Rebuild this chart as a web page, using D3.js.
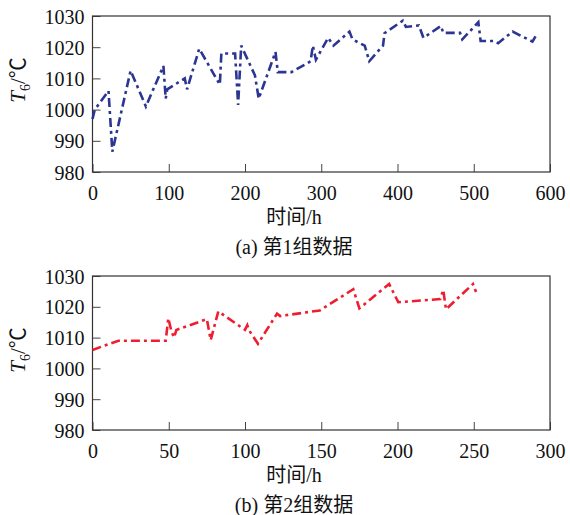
<!DOCTYPE html>
<html>
<head>
<meta charset="utf-8">
<script src="https://cdn.jsdelivr.net/npm/d3@7"></script>
<style>
  body { margin: 0; background: #fff; }
  text { font-family: "Liberation Serif", "Noto Sans CJK SC", serif; fill: #111; }
</style>
</head>
<body>
<div class="chart"></div>
<script>
// data: [hours, temperature]
var group1 = [[0,997],[3,1000],[21,1006],[26,986.5],[50,1012.5],[70,1001],[93,1014],[96,1003.5],[98,1006.5],
  [121,1010],[124,1006.5],[140,1019.5],[167,1008],[169,1018],[187,1018],[191,1001.5],[195,1020.5],
  [213,1011],[218,1003.5],[240,1018.5],[243,1012],[261,1012],[286,1015.5],[289,1020.5],[293,1016],
  [309,1023],[316,1020.5],[337,1025],[341,1022.5],[357,1020.5],[363,1015.5],[381,1020.5],[383,1024.5],
  [407,1028.5],[411,1026.5],[428,1027],[434,1023],[457,1026.8],[460,1024.6],[482,1024.6],[485,1022.5],
  [506,1028],[509,1022],[527,1022],[532,1021.3],[551,1025],[577,1021.8],[581,1023.5]];

var group2 = [[0,1006],[17,1009],[48,1009],[49.7,1016.3],[51.8,1012],[53.5,1010],[55,1012.5],[75,1016],
  [77.5,1009.2],[82.5,1018.5],[100,1012.5],[101.5,1014],[102.5,1012.5],[108.5,1008],[121,1017.8],
  [123,1017],[149,1018.8],[171,1025.7],[175,1019.5],[194.5,1027.4],[200.5,1021.5],[228,1022.5],
  [230,1025.5],[231.8,1019.2],[249.5,1027.4],[251.5,1024.8]];

var yTicks = [980, 990, 1000, 1010, 1020, 1030];
var xTicks1 = [0, 100, 200, 300, 400, 500, 600];
var xTicks2 = [0, 50, 100, 150, 200, 250, 300];
var captions = ["(a) 第1组数据", "(b) 第2组数据"];
var xTitle = "时间/h";

var svgWidth = 570;
var svgHeight = 515;

var svg = d3.select(".chart")
  .append("svg")
  .attr("width", svgWidth)
  .attr("height", svgHeight);

var panels = [
  { data: group1, xTicks: xTicks1, xMax: 600, top: 16, bottom: 172, color: "#2b3592", caption: captions[0], labelY: 80 },
  { data: group2, xTicks: xTicks2, xMax: 300, top: 276, bottom: 430, color: "#ee1d30", caption: captions[1], labelY: 350 }
];

var left = 92.5, right = 550;

panels.forEach(function (p) {
  var x = d3.scaleLinear().domain([0, p.xMax]).range([left, right]);
  var y = d3.scaleLinear().domain([980, 1030]).range([p.bottom, p.top]);

  var g = svg.append("g");

  // x axis with inner ticks
  var xAxis = g.append("g")
    .attr("transform", `translate(0, ${p.bottom})`)
    .call(d3.axisBottom(x).tickValues(p.xTicks).tickFormat(d3.format("d"))
      .tickSizeInner(-8).tickSizeOuter(0).tickPadding(14));
  xAxis.select(".domain").remove();
  xAxis.selectAll("line").attr("stroke", "#444");
  xAxis.selectAll("text").attr("font-size", 20).attr("fill", "#111");

  var yAxis = g.append("g")
    .attr("transform", `translate(${left}, 0)`)
    .call(d3.axisLeft(y).tickValues(yTicks).tickFormat(d3.format("d"))
      .tickSizeInner(-8).tickSizeOuter(0).tickPadding(8));
  yAxis.select(".domain").remove();
  yAxis.selectAll("line").attr("stroke", "#444");
  yAxis.selectAll("text").attr("font-size", 20).attr("fill", "#111").attr("dy", "0.35em");

  // frame
  g.append("rect")
    .attr("x", left)
    .attr("y", p.top)
    .attr("width", right - left)
    .attr("height", p.bottom - p.top)
    .attr("fill", "none")
    .attr("stroke", "#333")
    .attr("stroke-width", 1.2);

  var line = d3.line()
    .x(d => x(d[0]))
    .y(d => y(d[1]));

  g.append("path")
    .datum(p.data)
    .attr("d", line)
    .attr("fill", "none")
    .attr("stroke", p.color)
    .attr("stroke-width", 2.6)
    .attr("stroke-dasharray", "9,4,3,4");

  // y title  T6/℃
  var yt = g.append("text")
    .attr("transform", `translate(25, ${p.labelY}) rotate(-90)`)
    .attr("text-anchor", "middle")
    .attr("font-size", 21);
  yt.append("tspan").attr("font-style", "italic").text("T");
  yt.append("tspan").attr("font-size", 14).attr("dy", 5).text("6");
  yt.append("tspan").attr("dy", -5).text("/℃");

  g.append("text")
    .attr("x", 294)
    .attr("y", p.bottom + 52)
    .attr("text-anchor", "middle")
    .attr("font-size", 20)
    .text(xTitle);

  g.append("text")
    .attr("x", 294)
    .attr("y", p.bottom + 82)
    .attr("text-anchor", "middle")
    .attr("font-size", 20)
    .text(p.caption);
});
</script>
</body>
</html>
